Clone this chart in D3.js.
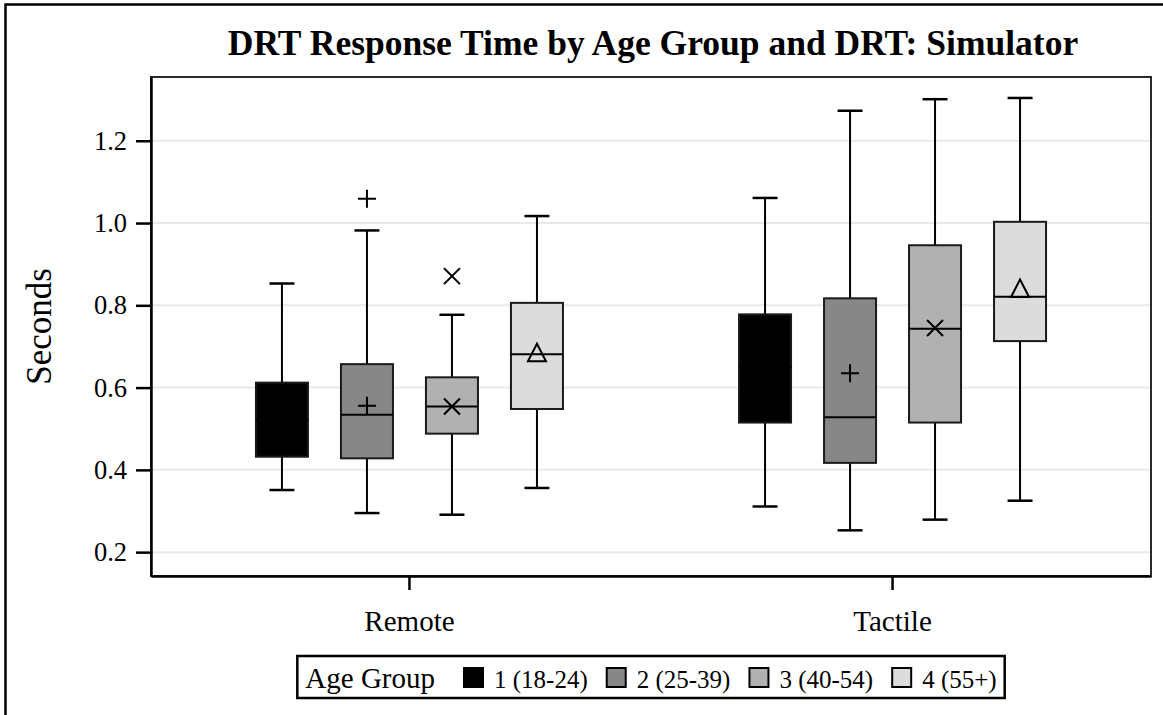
<!DOCTYPE html>
<html>
<head>
<meta charset="utf-8">
<script src="https://cdn.jsdelivr.net/npm/d3@7"></script>
<style>
  html, body { margin: 0; padding: 0; background: #fff; overflow: hidden; }
  svg { display: block; }
  text { font-family: "Liberation Serif", "Times New Roman", serif; fill: #000; }
</style>
</head>
<body>
<svg id="chart" width="1163" height="715"></svg>
<script>
// Drivers' DRT response time (seconds), summarised per DRT type and age group
const categories = ["Remote", "Tactile"];
const groups = ["1 (18-24)", "2 (25-39)", "3 (40-54)", "4 (55+)"];
const groupFill = ["#000000", "#878787", "#b1b1b1", "#dcdcdc"];
const groupMarker = ["circle", "plus", "cross", "triangle"];

// per category: one entry per age group
const whiskerLow  = [[0.351, 0.295, 0.291, 0.356], [0.311, 0.253, 0.279, 0.325]];
const q1          = [[0.432, 0.428, 0.488, 0.548], [0.515, 0.417, 0.515, 0.713]];
const median      = [[0.520, 0.534, 0.554, 0.681], [0.650, 0.528, 0.743, 0.821]];
const q3          = [[0.612, 0.657, 0.625, 0.806], [0.778, 0.817, 0.946, 1.003]];
const whiskerHigh = [[0.853, 0.982, 0.777, 1.017], [1.061, 1.273, 1.301, 1.304]];
const means       = [[0.530, 0.556, 0.554, 0.680], [0.640, 0.635, 0.745, 0.836]];
const outliers    = [[[], [1.059], [0.871], []], [[], [], [], []]];

const yTicks = [0.2, 0.4, 0.6, 0.8, 1.0, 1.2];

const title = "DRT Response Time by Age Group and DRT: Simulator";
const yLabel = "Seconds";
const legendTitle = "Age Group";

const svg = d3.select("#chart");
const plot = { left: 151, right: 1151, top: 77, bottom: 576 };

const x = d3.scaleBand()
  .domain(categories)
  .range([plot.left, plot.right])
  .paddingInner(0)
  .paddingOuter(0.035);

const xInner = d3.scalePoint()
  .domain(groups)
  .range([-127.5, 127.5]);

const y = d3.scaleLinear()
  .domain([0.142, 1.355])
  .range([plot.bottom, plot.top]);

const boxW = 52;
const capW = 25;
const serif = "\"Liberation Serif\", \"Times New Roman\", serif";

// outer frame (left and top edges fall inside the canvas)
svg.append("path")
  .attr("d", "M5.5,715V4.5H1163")
  .attr("fill", "none").attr("stroke", "#000").attr("stroke-width", 2.5);

// title
svg.append("text")
  .attr("x", 653).attr("y", 55)
  .attr("text-anchor", "middle")
  .style("font-family", serif)
  .style("font-size", "35.5px").style("font-weight", "bold")
  .text(title);

// gridlines
svg.append("g")
  .selectAll("line")
  .data(yTicks)
  .join("line")
  .attr("x1", plot.left).attr("x2", plot.right)
  .attr("y1", d => y(d)).attr("y2", d => y(d))
  .attr("stroke", "#e9e9e9").attr("stroke-width", 2);

// plot frame
svg.append("rect")
  .attr("x", plot.left).attr("y", plot.top)
  .attr("width", plot.right - plot.left).attr("height", plot.bottom - plot.top)
  .attr("fill", "none").attr("stroke", "#2a2a2a").attr("stroke-width", 2);

// y axis
const yAxis = svg.append("g")
  .attr("transform", `translate(${plot.left},0)`)
  .call(d3.axisLeft(y).tickValues(yTicks).tickFormat(d3.format(".1f"))
    .tickSize(15).tickSizeOuter(0).tickPadding(9));
yAxis.attr("font-family", null);
yAxis.select(".domain").attr("stroke", "#000").attr("stroke-width", 2.5);
yAxis.selectAll(".tick line").attr("stroke", "#000").attr("stroke-width", 2.5);
yAxis.selectAll(".tick text")
  .style("font-family", serif)
  .style("font-size", "26.5px").attr("fill", "#000");

// x axis
const xAxis = svg.append("g")
  .attr("transform", `translate(0,${plot.bottom})`)
  .call(d3.axisBottom(x).tickSize(14).tickSizeOuter(0).tickPadding(20));
xAxis.attr("font-family", null);
xAxis.select(".domain").attr("stroke", "#000").attr("stroke-width", 2.5);
xAxis.selectAll(".tick line").attr("stroke", "#000").attr("stroke-width", 2.5);
xAxis.selectAll(".tick text")
  .style("font-family", serif)
  .style("font-size", "29px").attr("fill", "#000");

// y label
svg.append("text")
  .attr("transform", `translate(51,${(plot.top + plot.bottom) / 2}) rotate(-90)`)
  .attr("text-anchor", "middle")
  .style("font-family", serif)
  .style("font-size", "35px")
  .text(yLabel);

// marker shapes
function markerPath(kind) {
  switch (kind) {
    case "plus": return "M-9,0H9M0,-9V9";
    case "cross": return "M-8,-8L8,8M-8,8L8,-8";
    case "triangle": return "M0,-11L9,6.5L-9,6.5Z";
    default: return d3.symbol(d3.symbolCircle, 120)();
  }
}

// boxes
const boxes = [];
categories.forEach((c, ci) => {
  groups.forEach((g, gi) => {
    boxes.push({
      cx: x(c) + x.bandwidth() / 2 + xInner(g),
      gi,
      lo: whiskerLow[ci][gi], q1: q1[ci][gi], med: median[ci][gi],
      q3: q3[ci][gi], hi: whiskerHigh[ci][gi], mean: means[ci][gi],
      out: outliers[ci][gi]
    });
  });
});

const bg = svg.append("g").selectAll("g").data(boxes).join("g");

// whiskers
bg.append("line")
  .attr("x1", d => d.cx).attr("x2", d => d.cx)
  .attr("y1", d => y(d.hi)).attr("y2", d => y(d.q3))
  .attr("stroke", "#000").attr("stroke-width", 2);
bg.append("line")
  .attr("x1", d => d.cx).attr("x2", d => d.cx)
  .attr("y1", d => y(d.q1)).attr("y2", d => y(d.lo))
  .attr("stroke", "#000").attr("stroke-width", 2);
bg.append("line")
  .attr("x1", d => d.cx - capW / 2).attr("x2", d => d.cx + capW / 2)
  .attr("y1", d => y(d.hi)).attr("y2", d => y(d.hi))
  .attr("stroke", "#000").attr("stroke-width", 2.5);
bg.append("line")
  .attr("x1", d => d.cx - capW / 2).attr("x2", d => d.cx + capW / 2)
  .attr("y1", d => y(d.lo)).attr("y2", d => y(d.lo))
  .attr("stroke", "#000").attr("stroke-width", 2.5);

// box body
bg.append("rect")
  .attr("x", d => d.cx - boxW / 2)
  .attr("y", d => y(d.q3))
  .attr("width", boxW)
  .attr("height", d => y(d.q1) - y(d.q3))
  .attr("fill", d => groupFill[d.gi])
  .attr("stroke", "#1a1a1a").attr("stroke-width", 2);

// median
bg.append("line")
  .attr("x1", d => d.cx - boxW / 2).attr("x2", d => d.cx + boxW / 2)
  .attr("y1", d => y(d.med)).attr("y2", d => y(d.med))
  .attr("stroke", "#000").attr("stroke-width", 2);

// mean marker
bg.append("path")
  .attr("transform", d => `translate(${d.cx},${y(d.mean)})`)
  .attr("d", d => markerPath(groupMarker[d.gi]))
  .attr("fill", "none").attr("stroke", "#000").attr("stroke-width", 2);

// outliers
bg.selectAll("path.out")
  .data(d => d.out.map(v => ({ v, cx: d.cx, gi: d.gi })))
  .join("path")
  .attr("class", "out")
  .attr("transform", d => `translate(${d.cx},${y(d.v)})`)
  .attr("d", d => markerPath(groupMarker[d.gi]))
  .attr("fill", "none").attr("stroke", "#000").attr("stroke-width", 2);

// legend
const leg = svg.append("g");
const legBox = leg.append("rect")
  .attr("fill", "#fff").attr("stroke", "#000").attr("stroke-width", 2.5);
const items = leg.append("g");
const baseY = 688;
let cursor = 0;
const lt = items.append("text")
  .attr("x", cursor).attr("y", baseY)
  .style("font-family", serif)
  .style("font-size", "29px")
  .text(legendTitle);
cursor += lt.node().getComputedTextLength() + 28;
groups.forEach((g, gi) => {
  items.append("rect")
    .attr("x", cursor + 1).attr("y", 668)
    .attr("width", 19).attr("height", 19)
    .attr("fill", groupFill[gi])
    .attr("stroke", "#000").attr("stroke-width", 2);
  cursor += 31;
  const t = items.append("text")
    .attr("x", cursor).attr("y", baseY)
    .style("font-family", serif)
    .style("font-size", "25px")
    .text(g);
  cursor += t.node().getComputedTextLength() + (gi < groups.length - 1 ? 18 : 0);
});
const pad = 8;
const legW = cursor + pad * 2;
const legX = 651 - legW / 2;
items.attr("transform", `translate(${legX + pad},0)`);
legBox.attr("x", legX).attr("y", 656).attr("width", legW).attr("height", 42);
</script>
</body>
</html>
